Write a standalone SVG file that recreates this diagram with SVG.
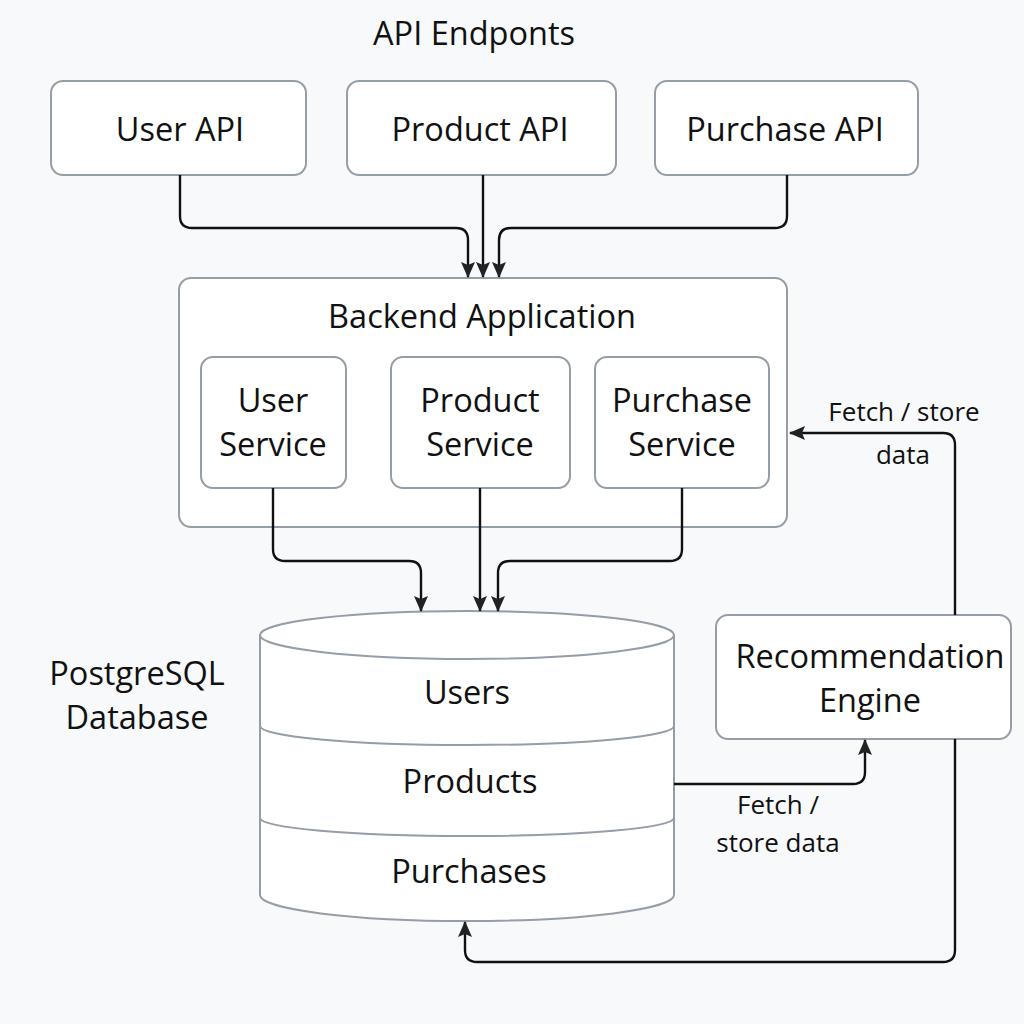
<svg xmlns="http://www.w3.org/2000/svg" width="1024" height="1024" viewBox="0 0 1024 1024">
<defs>
<style>
.box{fill:#ffffff;stroke:#959da6;stroke-width:2}
.t{font-family:"Open Sans","Noto Sans",sans-serif;font-size:32.5px;fill:#111;text-anchor:middle}
.s{font-family:"Open Sans","Noto Sans",sans-serif;font-size:26px;fill:#111;text-anchor:middle}
.c{fill:none;stroke:#111;stroke-width:2.4}
</style>
<marker id="ah" markerUnits="userSpaceOnUse" markerWidth="16" markerHeight="14" refX="15" refY="7" orient="auto">
<path d="M0,0 L16,7 L0,14 L3,7 z" fill="#222"/>
</marker>
</defs>
<rect width="1024" height="1024" fill="#f8f9fa"/>
<text class="t" x="474" y="45">API Endponts</text>
<g id="user-api"><rect class="box" x="51" y="81" width="255" height="94" rx="12"/><text class="t" x="180" y="141">User API</text></g>
<g id="product-api"><rect class="box" x="347" y="81" width="269" height="94" rx="12"/><text class="t" x="480" y="141">Product API</text></g>
<g id="purchase-api"><rect class="box" x="655" y="81" width="263" height="94" rx="12"/><text class="t" x="785" y="141">Purchase API</text></g>
<g id="backend"><rect class="box" x="179" y="278" width="608" height="249" rx="12"/><text class="t" x="482" y="328">Backend Application</text></g>
<g id="user-service"><rect class="box" x="201" y="357" width="145" height="131" rx="12"/><text class="t" x="273" y="412">User</text><text class="t" x="273" y="456">Service</text></g>
<g id="product-service"><rect class="box" x="391" y="357" width="179" height="131" rx="12"/><text class="t" x="480" y="412">Product</text><text class="t" x="480" y="456">Service</text></g>
<g id="purchase-service"><rect class="box" x="595" y="357" width="174" height="131" rx="12"/><text class="t" x="682" y="412">Purchase</text><text class="t" x="682" y="456">Service</text></g>
<g id="database">
<path class="box" d="M260,635 V895 A207,26 0 0 0 674,895 V635 Z"/>
<ellipse class="box" cx="467" cy="635" rx="207" ry="24"/>
<path class="box" d="M260,726 A207,19 0 0 0 674,726" style="fill:none"/>
<path class="box" d="M260,818 A207,18 0 0 0 674,818" style="fill:none"/>
<text class="t" x="467" y="704">Users</text>
<text class="t" x="470" y="793">Products</text>
<text class="t" x="469" y="883">Purchases</text>
</g>
<g id="db-label"><text class="t" x="137" y="685">PostgreSQL</text><text class="t" x="137" y="729">Database</text></g>
<g id="recommendation"><rect class="box" x="716" y="615" width="295" height="124" rx="12"/><text class="t" x="870" y="668">Recommendation</text><text class="t" x="870" y="712">Engine</text></g>
<g id="connectors">
<path class="c" marker-end="url(#ah)" d="M180,175 V216 Q180,228 192,228 H456 Q468,228 468,240 V277"/>
<path class="c" marker-end="url(#ah)" d="M483,175 V277"/>
<path class="c" marker-end="url(#ah)" d="M787,175 V216 Q787,228 775,228 H511 Q499,228 499,240 V277"/>
<path class="c" marker-end="url(#ah)" d="M273,488 V549 Q273,561 285,561 H409 Q421,561 421,573 V611"/>
<path class="c" marker-end="url(#ah)" d="M480,488 V611"/>
<path class="c" marker-end="url(#ah)" d="M682,488 V549 Q682,561 670,561 H510 Q498,561 498,573 V611"/>
<path class="c" marker-end="url(#ah)" d="M674,784 H853 Q865,784 865,772 V740"/>
<path class="c" marker-end="url(#ah)" d="M955,615 V445 Q955,433 943,433 H790"/>
<path class="c" marker-end="url(#ah)" d="M955,739 V950 Q955,962 943,962 H477 Q465,962 465,950 V922"/>
</g>
<g id="labels">
<text class="s" x="778" y="814">Fetch /</text>
<text class="s" x="778" y="852">store data</text>
<text class="s" x="904" y="421">Fetch / store</text>
<text class="s" x="903" y="464">data</text>
</g>
</svg>
